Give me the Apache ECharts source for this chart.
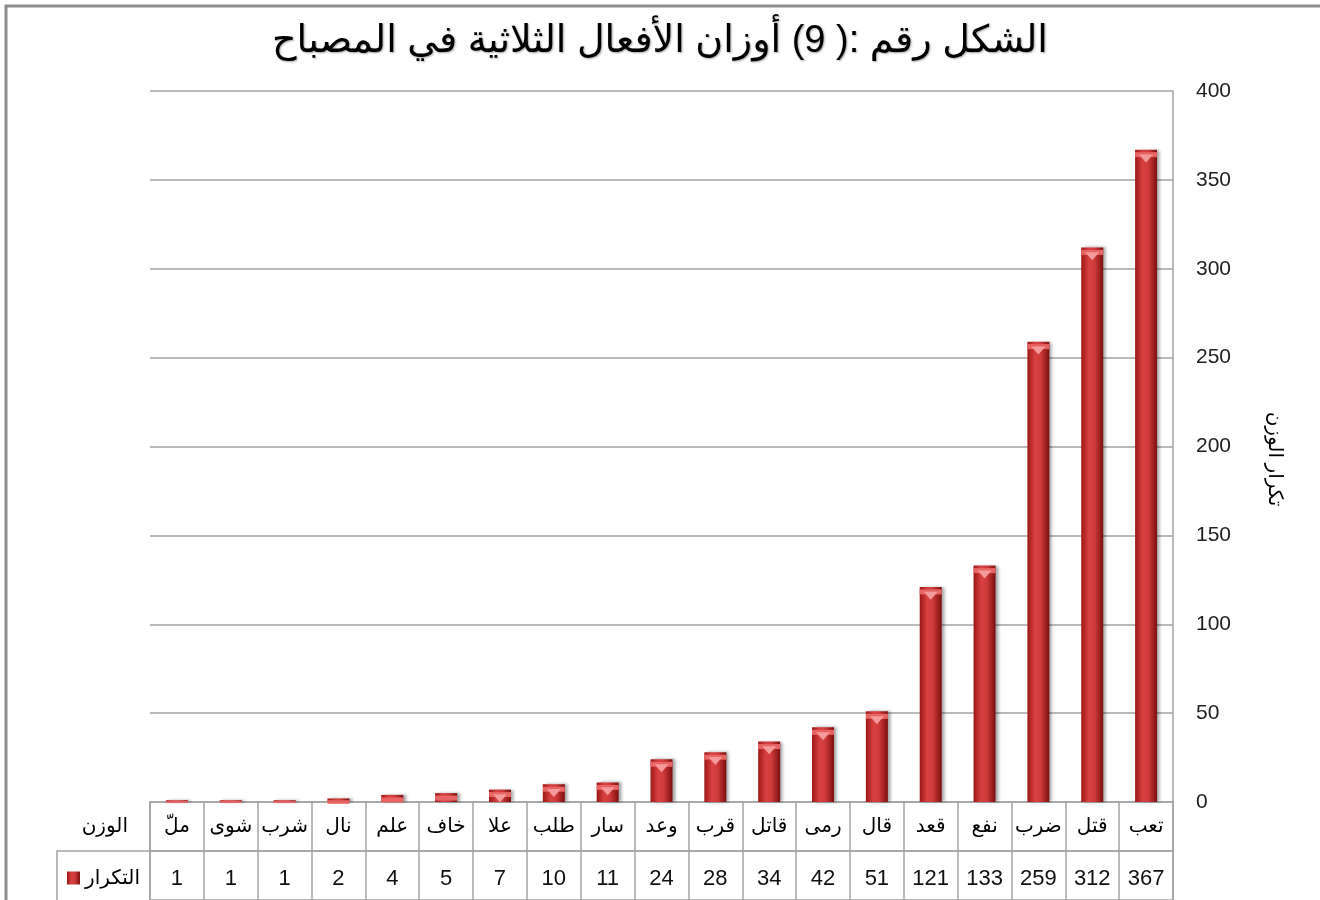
<!DOCTYPE html>
<html>
<head>
    <meta charset="utf-8">
    <title>أوزان الأفعال الثلاثية</title>
    <style>
        html, body { margin: 0; padding: 0; background: #fff; }
        #chart { width: 1320px; height: 900px; }
    </style>
</head>
<body>
<div id="chart"></div>
<script src="https://cdn.jsdelivr.net/npm/echarts@6/dist/echarts.min.js"></script>
<script type="text/javascript">
    // الأوزان وتكرارها
    var weights = ['ملّ', 'شوى', 'شرب', 'نال', 'علم', 'خاف', 'علا', 'طلب', 'سار', 'وعد',
        'قرب', 'قاتل', 'رمى', 'قال', 'قعد', 'نفع', 'ضرب', 'قتل', 'تعب'];
    var counts = [1, 1, 1, 2, 4, 5, 7, 10, 11, 24, 28, 34, 42, 51, 121, 133, 259, 312, 367];
    var yTicks = [0, 50, 100, 150, 200, 250, 300, 350, 400];

    var seriesName = 'التكرار';
    var rowHeader = 'الوزن';
    var titleText = 'الشكل رقم :( 9) أوزان الأفعال الثلاثية في المصباح';
    var yName = 'تكرار الوزن';

    var font = '"Liberation Sans", "DejaVu Sans", sans-serif';
    var lineGray = '#a3a3a3';
    var pxPerUnit = 711 / 400; // plot height / axis range, used only to keep caps inside short bars

    var barColor = new echarts.graphic.LinearGradient(0, 0, 1, 0, [
        {offset: 0, color: '#9c1717'},
        {offset: 0.35, color: '#d94141'},
        {offset: 0.6, color: '#cf3a3a'},
        {offset: 1, color: '#7c0f0f'}
    ]);

    // caps never taller than the bar itself
    var capData = counts.map(function (v) {
        return {value: v, symbolSize: [22, Math.min(5, v * pxPerUnit)]};
    });
    var tipData = counts.map(function (v) {
        var h = v * pxPerUnit;
        return {value: v, symbolSize: h >= 9 ? [14, 8] : [0, 0]};
    });

    var option = {
        backgroundColor: '#fff',
        animation: false,
        title: {
            text: titleText,
            left: 'center',
            top: 18,
            textStyle: {
                fontFamily: font,
                fontSize: 38,
                fontWeight: 'normal',
                color: '#000',
                textShadowColor: 'rgba(0,0,0,0.35)',
                textShadowBlur: 2,
                textShadowOffsetX: 1,
                textShadowOffsetY: 1
            }
        },
        legend: {
            left: 62,
            top: 863,
            itemWidth: 13,
            itemHeight: 13,
            icon: 'rect',
            data: [seriesName],
            textStyle: {fontFamily: font, fontSize: 20, color: '#000'},
            selectedMode: false
        },
        graphic: [
            {
                type: 'rect',
                shape: {x: 6, y: 6, width: 1500, height: 1200},
                style: {fill: 'none', stroke: '#8c8c8c', lineWidth: 3},
                silent: true
            },
            {
                type: 'polyline',
                shape: {points: [[150, 851], [57, 851], [57, 905]]},
                style: {fill: 'none', stroke: lineGray, lineWidth: 1.5},
                silent: true
            }
        ],
        grid: [
            {left: 150, right: 147, top: 91, height: 711},
            {left: 150, right: 147, top: 802, height: 49, show: true, borderColor: lineGray, borderWidth: 1.5},
            {left: 150, right: 147, top: 851, height: 60, show: true, borderColor: lineGray, borderWidth: 1.5}
        ],
        xAxis: [
            {
                gridIndex: 0, type: 'category', data: weights,
                axisLine: {show: false}, axisTick: {show: false}, axisLabel: {show: false}
            },
            {
                gridIndex: 1, type: 'category', data: weights,
                axisLine: {show: false}, axisTick: {show: false},
                splitLine: {show: true, interval: 0, lineStyle: {color: lineGray, width: 1.5}},
                axisLabel: {
                    interval: 0, margin: -25, verticalAlign: 'middle',
                    fontFamily: font, fontSize: 20, color: '#000'
                }
            },
            {
                gridIndex: 2, type: 'category', data: weights,
                axisLine: {show: false}, axisTick: {show: false},
                splitLine: {show: true, interval: 0, lineStyle: {color: lineGray, width: 1.5}},
                axisLabel: {
                    interval: 0, margin: -21, verticalAlign: 'middle',
                    fontFamily: font, fontSize: 22, color: '#111',
                    formatter: function (v, i) { return String(counts[i]); }
                }
            }
        ],
        yAxis: [
            {
                gridIndex: 0, type: 'value', position: 'right',
                min: yTicks[0], max: yTicks[yTicks.length - 1], interval: yTicks[1] - yTicks[0],
                axisLine: {show: true, lineStyle: {color: lineGray, width: 1.5}},
                axisTick: {show: false},
                splitLine: {lineStyle: {color: lineGray, width: 1.5}},
                axisLabel: {margin: 23, fontFamily: font, fontSize: 21, color: '#222'},
                name: yName,
                nameLocation: 'middle',
                nameRotate: -90,
                nameGap: 92,
                nameTextStyle: {fontFamily: font, fontSize: 20, color: '#000', padding: [0, 0, 0, 25]}
            },
            {
                gridIndex: 1, type: 'category', data: [rowHeader],
                axisLine: {show: false}, axisTick: {show: false},
                axisLabel: {margin: 22, fontFamily: font, fontSize: 20, color: '#000'}
            },
            {
                gridIndex: 2, type: 'category', data: [''],
                axisLine: {show: false}, axisTick: {show: false}, axisLabel: {show: false}
            }
        ],
        series: [
            {
                name: seriesName,
                type: 'bar',
                xAxisIndex: 0,
                yAxisIndex: 0,
                data: counts,
                barWidth: 22,
                itemStyle: {
                    color: barColor,
                    shadowColor: 'rgba(0,0,0,0.35)',
                    shadowBlur: 3,
                    shadowOffsetX: 3
                }
            },
            {
                // top cap of each bar
                name: 'cap',
                type: 'pictorialBar',
                xAxisIndex: 0,
                yAxisIndex: 0,
                data: capData,
                symbol: 'rect',
                symbolPosition: 'end',
                symbolOffset: [0, '50%'],
                itemStyle: {color: '#e86464'},
                z: 3,
                silent: true
            },
            {
                name: 'capTip',
                type: 'pictorialBar',
                xAxisIndex: 0,
                yAxisIndex: 0,
                data: tipData,
                symbol: 'triangle',
                symbolRotate: 180,
                symbolPosition: 'end',
                symbolOffset: [0, '60%'],
                itemStyle: {color: '#f49a9a'},
                z: 4,
                silent: true
            }
        ]
    };

    var myChart = echarts.init(document.getElementById('chart'));
    myChart.setOption(option);
</script>
</body>
</html>
